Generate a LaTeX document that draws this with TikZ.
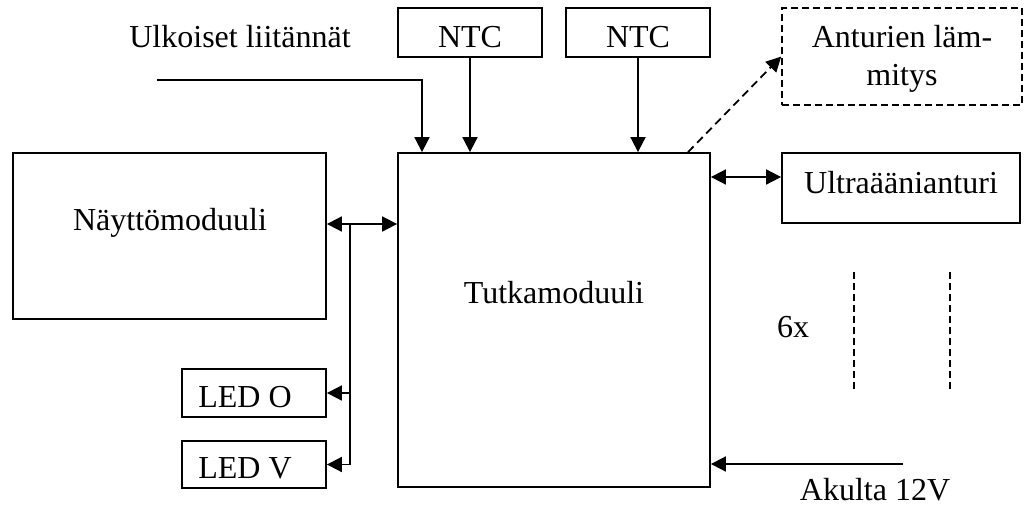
\documentclass[tikz,border=0pt]{standalone}
\usepackage{fontspec}
\setmainfont{Liberation Serif}
\usetikzlibrary{arrows.meta}
\begin{document}
\begin{tikzpicture}[x=1pt,y=-1pt,
  box/.style={draw, line width=1.8pt, inner sep=0pt, rectangle},
  dbox/.style={box, line width=1.6pt, dash pattern=on 7pt off 4pt},
  lbl/.style={anchor=base, inner sep=0pt, font=\fontsize{32}{37}\selectfont},
  conn/.style={line width=1.8pt},
  tip/.style={-{Triangle[length=15pt,width=15pt]}},
  tips/.style={{Triangle[length=15pt,width=15pt]}-{Triangle[length=15pt,width=15pt]}},
  dline/.style={line width=1.6pt, dash pattern=on 7pt off 4pt}
]
\useasboundingbox[fill=white] (0,0) rectangle (1024,506);

% boxes
\node[box, minimum width=144pt, minimum height=49pt] (ntc1) at (470,32.5) {};
\node[box, minimum width=144pt, minimum height=49pt] (ntc2) at (638,32.5) {};
\node[dbox, minimum width=240pt, minimum height=97pt] (ant) at (902,56.5) {};
\node[box, minimum width=238pt, minimum height=70pt] (ult) at (901,188) {};
\node[box, minimum width=313pt, minimum height=166pt] (nay) at (169.5,236) {};
\node[box, minimum width=312pt, minimum height=334pt] (tut) at (554,320) {};
\node[box, minimum width=144pt, minimum height=48pt] (ledo) at (254,393) {};
\node[box, minimum width=144pt, minimum height=47pt] (ledv) at (254,464.5) {};

% texts
\node[lbl] (tulk) at (240,47) {Ulkoiset liitännät};
\node[lbl] (tntc1) at (470,47) {NTC};
\node[lbl] (tntc2) at (638,47) {NTC};
\node[lbl] (tant1) at (902,47) {Anturien läm-};
\node[lbl] (tant2) at (902,85) {mitys};
\node[lbl] (tult) at (901,193) {Ultraäänianturi};
\node[lbl] (tnay) at (170,230) {Näyttömoduuli};
\node[lbl] (ttut) at (554,303) {Tutkamoduuli};
\node[lbl] (tledo) at (245,407) {LED O};
\node[lbl] (tledv) at (245,478) {LED V};
\node[lbl] (t6x) at (793,337) {6x};
\node[lbl] (takk) at (875,500) {Akulta 12V};

% connectors
\coordinate (ext) at (157,80);
\draw[conn,tip] (ext) -| (422,0 |- tut.north);
\draw[conn,tip] (ntc1.south) -- (ntc1.south |- tut.north);
\draw[conn,tip] (ntc2.south) -- (ntc2.south |- tut.north);
\draw[conn,tip,dash pattern=on 8pt off 5pt] (688,0 |- tut.north) -- (ant.west);
\draw[conn,tips] (tut.east |- 0,177) -- (ult.west |- 0,177);
\draw[conn,tips] (nay.east |- 0,224) -- (tut.west |- 0,224);
\coordinate (bus) at (350,224);
\draw[conn,tip] (bus) |- (ledv.east);
\draw[conn,tip] (bus |- ledo.east) -- (ledo.east);
\coordinate (bat) at (903,464);
\draw[conn,tip] (bat) -- (bat -| tut.east);

% 6x dashed markers
\draw[dline] (854,272) -- (854,391);
\draw[dline] (950,272) -- (950,391);
\end{tikzpicture}
\end{document}
